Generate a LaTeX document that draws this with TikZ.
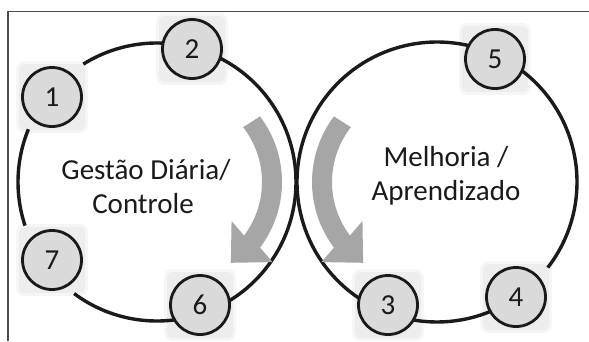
\documentclass[tikz,border=0pt]{standalone}
\usepackage{fontspec}
\setmainfont{Carlito}
\usetikzlibrary{calc}
\definecolor{nodefill}{HTML}{DADADA}
\definecolor{arrowgray}{HTML}{A6A6A6}
\definecolor{inkc}{HTML}{1A1A1A}
\tikzset{
  numnode/.style={circle, draw=inkc, line width=2.8pt, fill=nodefill, minimum size=59pt, inner sep=0pt, text=inkc, font=\fontsize{29}{34}\selectfont},
  bigarc/.style={draw=inkc, line width=3.4pt},
  lbl/.style={anchor=base, inner sep=0pt, text=inkc, font=\fontsize{29}{34}\selectfont},
}
\begin{document}
\begin{tikzpicture}[x=1pt,y=1pt]
\useasboundingbox (0,0) rectangle (589,341);
\fill[white] (0,0) rectangle (589,341);
% frame
\draw[black!70, line width=1.2pt] (8,0) -- (8,329.5) -- (589,329.5);
% centres
\coordinate (C1) at (157,159);
\coordinate (C2) at (437,159);
\coordinate (O1) at (173,159);
\coordinate (O2) at (421,159);
% big circle arcs
\draw[bigarc] ($(C1)+(75:139)$) arc[start angle=75, end angle=122, radius=139];
\draw[bigarc] ($(C1)+(157.7:139)$) arc[start angle=157.7, end angle=198.3, radius=139];
\draw[bigarc] ($(C1)+(233.4:139)$) arc[start angle=233.4, end angle=435, radius=139];
\draw[bigarc] ($(C2)+(-37.7:140)$) arc[start angle=-37.7, end angle=304.5, radius=140];
% curved arrows
\coordinate (P1) at ($(O1)+(-37:99)$);
\coordinate (P2) at ($(O2)+(217:99)$);
\fill[arrowgray] ($(O1)+(37:109)$) arc[start angle=37, end angle=-37, radius=109]
  -- ($(P1)+(-45:29)$) -- ($(P1)+(-135:30)$) -- ($(P1)+(135:29)$)
  -- ($(O1)+(-37:89)$) arc[start angle=-37, end angle=38, radius=89] -- cycle;
\fill[arrowgray] ($(O2)+(143:109)$) arc[start angle=143, end angle=217, radius=109]
  -- ($(P2)+(-135:29)$) -- ($(P2)+(-45:30)$) -- ($(P2)+(45:29)$)
  -- ($(O2)+(217:89)$) arc[start angle=217, end angle=142, radius=89] -- cycle;
% soft glow squares behind the numbered circles
\foreach \p in {(52,244),(192,292),(52,81),(200,36),(495,282),(388,36),(516,44)}{
  \fill[black, opacity=0.035, rounded corners=8pt] \p ++(-36,-36) rectangle ++(72,72);
  \fill[black, opacity=0.035, rounded corners=5pt] \p ++(-33,-33) rectangle ++(66,66);
}
% nodes
\node[numnode] (n1) at (52,244) {1};
\node[numnode] (n2) at (192,292) {2};
\node[numnode] (n3) at (388,36) {3};
\node[numnode] (n4) at (516,44) {4};
\node[numnode] (n5) at (495,282) {5};
\node[numnode] (n6) at (200,36) {6};
\node[numnode] (n7) at (52,81) {7};
% labels
\node[lbl] (t1) at (146,162) {Gestão Diária/};
\node[lbl] (t2) at (143,128) {Controle};
\node[lbl] (t3) at (446,175) {Melhoria /};
\node[lbl] (t4) at (446,141) {Aprendizado};
\end{tikzpicture}
\end{document}
